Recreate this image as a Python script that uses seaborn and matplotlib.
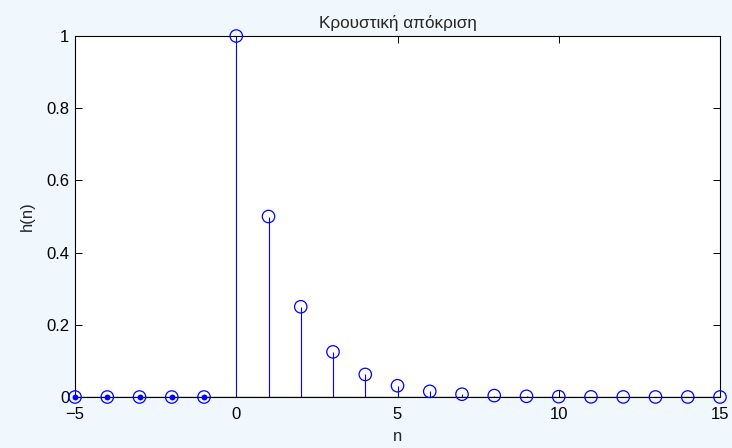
import matplotlib
matplotlib.use("Agg")
import matplotlib.pyplot as plt
import seaborn as sns
import pandas as pd

n_values = [-5, -4, -3, -2, -1, 0, 1, 2, 3, 4, 5, 6, 7, 8, 9, 10, 11, 12, 13, 14, 15]
h_values = [0, 0, 0, 0, 0, 1.0, 0.5, 0.25, 0.125, 0.0625, 0.03125, 0.015625,
            0.0078125, 0.00390625, 0.001953125, 0.0009765625, 0.00048828125,
            0.000244140625, 0.0001220703125, 0.00006103515625, 0.000030517578125]
x_ticks = [-5, 0, 5, 10, 15]
y_ticks = [0, 0.2, 0.4, 0.6, 0.8, 1]
y_tick_labels = ["0", "0.2", "0.4", "0.6", "0.8", "1"]
title_text = "Κρουστική απόκριση"
x_label = "n"
y_label = "h(n)"

df = pd.DataFrame({"n": n_values, "h": h_values})

sns.set_theme(style="ticks")
plt.rcParams["font.family"] = ["Liberation Sans", "DejaVu Sans"]

bg = "#F0F7FD"
fig = plt.figure(figsize=(7.32, 4.48), dpi=100, facecolor=bg)
ax = fig.add_axes([0.1025, 0.1138, 0.8811, 0.8058])
ax.set_facecolor("white")

blue = "#0000FF"
ax.axhline(0, color="black", linewidth=0.9, zorder=1)
ax.vlines(df["n"], 0, df["h"], colors=blue, linewidth=0.8, zorder=2)
sns.scatterplot(data=df, x="n", y="h", ax=ax, marker="o", s=80,
                facecolors="none", edgecolor=blue, linewidth=0.9, zorder=3,
                legend=False)
neg = df[df["n"] < 0]
sns.scatterplot(data=neg, x="n", y="h", ax=ax, marker="o", s=18,
                color=blue, edgecolor=blue, linewidth=0, zorder=5, legend=False)
for coll in ax.collections:
    coll.set_clip_on(False)

ax.set_xlim(-5, 15)
ax.set_ylim(0, 1)
ax.set_xticks(x_ticks)
ax.set_yticks(y_ticks)
ax.set_yticklabels(y_tick_labels)
ax.tick_params(direction="in", top=True, right=True, length=5, width=0.7,
               labelsize=12, colors="black")
ax.tick_params(axis="x", pad=7)
ax.tick_params(axis="y", pad=4)
for s in ax.spines.values():
    s.set_visible(True)
    s.set_color("black")
    s.set_linewidth(0.8)

ax.set_title(title_text, fontsize=12.3, pad=6)
ax.set_xlabel(x_label, fontsize=12, labelpad=5)
ax.set_ylabel(y_label, fontsize=12, labelpad=8)

fig.savefig("out.png", dpi=100, facecolor=bg)
